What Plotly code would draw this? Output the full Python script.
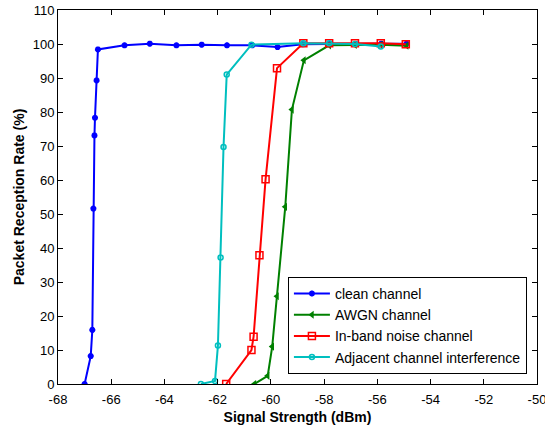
import plotly.graph_objects as go

# Data
clean_x = [-67.0, -66.77, -66.71, -66.67, -66.63, -66.61, -66.55, -66.5, -65.5, -64.55,
           -63.55, -62.6, -61.65, -60.7, -59.75, -58.8, -57.8, -56.8, -55.85, -54.9]
clean_y = [0, 8.2, 15.9, 51.6, 73.1, 78.3, 89.3, 98.4, 99.6, 100.1,
           99.6, 99.8, 99.6, 99.6, 99.1, 99.9, 100.0, 100.0, 100.1, 100.1]

awgn_x = [-60.62, -60.12, -59.95, -59.77, -59.46, -59.21, -58.76, -57.81, -56.84, -55.87, -54.9]
awgn_y = [0, 2.4, 11.0, 25.8, 52.1, 80.7, 95.2, 99.6, 99.7, 99.8, 99.5]

inband_x = [-61.68, -60.73, -60.65, -60.43, -60.2, -59.77, -58.78, -57.81, -56.84, -55.87, -54.93]
inband_y = [0, 10.0, 13.9, 37.9, 60.2, 92.9, 100.2, 100.2, 100.2, 100.2, 99.9]

adj_x = [-62.63, -62.1, -61.99, -61.89, -61.78, -61.66, -60.73, -58.78, -57.81, -56.84, -55.87]
adj_y = [0, 0.9, 11.3, 37.2, 69.7, 91.0, 99.8, 100.2, 100.2, 100.0, 99.3]

x_ticks = list(range(-68, -49, 2))
y_ticks = list(range(0, 111, 10))

fig = go.Figure()
fig.add_trace(go.Scatter(x=clean_x, y=clean_y, name="clean channel", mode="lines+markers",
                         line=dict(color="#0000ff", width=2),
                         marker=dict(symbol="asterisk-open", size=5, color="#0000ff",
                                     line=dict(color="#0000ff", width=2))))
fig.add_trace(go.Scatter(x=awgn_x, y=awgn_y, name="AWGN channel", mode="lines+markers",
                         line=dict(color="#008000", width=2),
                         marker=dict(symbol="triangle-left", size=7, color="#008000")))
fig.add_trace(go.Scatter(x=inband_x, y=inband_y, name="In-band noise channel", mode="lines+markers",
                         line=dict(color="#ff0000", width=2),
                         marker=dict(symbol="square-open", size=7, color="#ff0000",
                                     line=dict(color="#ff0000", width=1.5))))
fig.add_trace(go.Scatter(x=adj_x, y=adj_y, name="Adjacent channel interference", mode="lines+markers",
                         line=dict(color="#00bfbf", width=2),
                         marker=dict(symbol="circle-open", size=5, color="#00bfbf",
                                     line=dict(color="#00bfbf", width=1.5))))

axis_common = dict(showgrid=False, zeroline=False, showline=True, linecolor="#000000",
                   linewidth=1, mirror="ticks", ticks="inside", ticklen=5,
                   tickcolor="#000000", tickfont=dict(size=13, color="#000000"),
                   automargin=False, ticklabeloverflow="allow")

fig.update_layout(
    width=545, height=431,
    margin=dict(l=58, r=8, t=10, b=47),
    paper_bgcolor="white", plot_bgcolor="white",
    font=dict(family="Liberation Sans, Arial, sans-serif", size=13, color="#000000"),
    xaxis=dict(range=[-68, -50], tickvals=x_ticks, ticktext=[str(v) for v in x_ticks],
               ticklabelstandoff=3,
               title=dict(text="<b>Signal Strength (dBm)</b>", font=dict(size=14), standoff=6),
               **axis_common),
    yaxis=dict(range=[0, 110], tickvals=y_ticks, ticktext=[str(v) for v in y_ticks],
               title=dict(text="<b>Packet Reception Rate (%)</b>", font=dict(size=14), standoff=4),
               **axis_common),
    legend=dict(x=0.480, y=0.2864, xanchor="left", yanchor="top",
                bgcolor="white", bordercolor="#000000", borderwidth=1,
                font=dict(size=14), tracegroupgap=0, itemwidth=36),
    showlegend=True,
)

fig.write_html("out.html", config={"displayModeBar": False},
               post_script="document.body.style.margin='0';document.body.style.padding='0';")
